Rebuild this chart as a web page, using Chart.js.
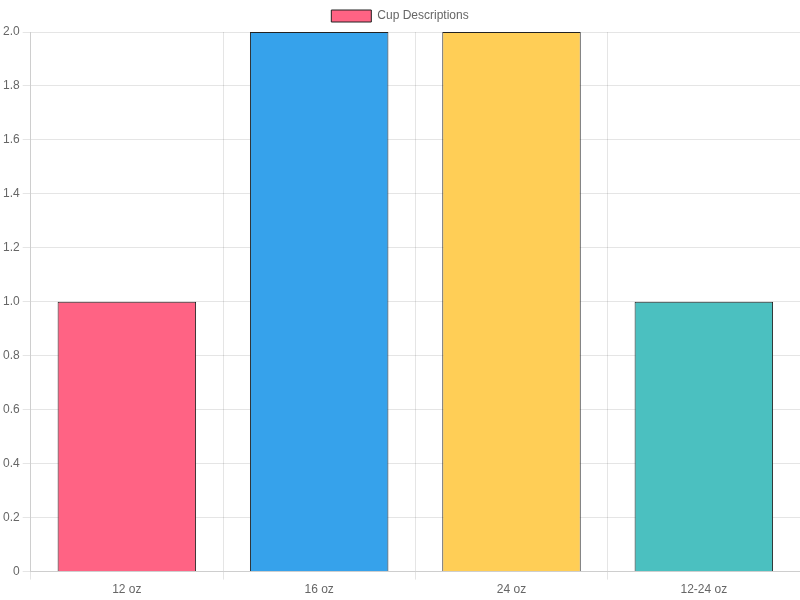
<!DOCTYPE html>
<html>
<head>
<meta charset="utf-8">
<script src="https://cdn.jsdelivr.net/npm/chart.js@4"></script>
<style>
  html, body { margin: 0; padding: 0; background: #fff; }
  #wrap { width: 800px; height: 600px; }
</style>
</head>
<body>
<div id="wrap"><canvas id="cupChart"></canvas></div>
<script>
const cupSizes = ['12 oz', '16 oz', '24 oz', '12-24 oz'];
const cupCounts = [1, 2, 2, 1];
const barColors = ['#ff6384', '#36a2eb', '#ffce56', '#4bc0c0'];

const ctx = document.getElementById('cupChart').getContext('2d');

new Chart(ctx, {
    type: 'bar',
    data: {
        labels: cupSizes,
        datasets: [{
            label: 'Cup Descriptions',
            data: cupCounts,
            backgroundColor: barColors,
            borderColor: '#222',
            borderWidth: 1,
        }]
    },
    options: {
        responsive: true,
        maintainAspectRatio: false,
        animation: false,
        scales: {
            y: {
                beginAtZero: true,
            }
        }
    }
});
</script>
</body>
</html>
